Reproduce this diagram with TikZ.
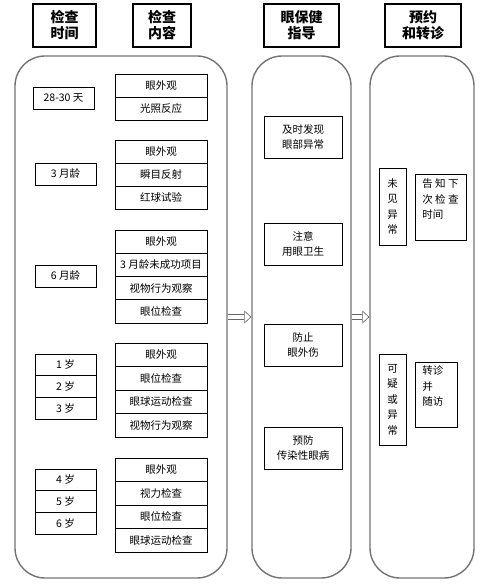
\documentclass[tikz,border=0pt]{standalone}
\usepackage{fontspec}
\setmainfont{Noto Sans CJK SC}
\usetikzlibrary{arrows.meta}

\tikzset{%
  hdrbox/.style={
    draw, line width=1.1pt,
    minimum width=#1, minimum height=43pt,
    align=center, inner sep=0pt,
    font=\fontsize{14}{16}\selectfont\bfseries
  },
  panelbox/.style={
    draw=black!55, line width=1.4pt,
    rounded corners=30pt, inner sep=0pt
  },
  itembox/.style={
    draw, line width=0.8pt,
    minimum width=92pt, minimum height=#1, inner sep=0pt,
    font=\fontsize{10.5}{12}\selectfont
  },
  agebox/.style={
    draw, line width=0.8pt,
    minimum width=61pt, minimum height=#1, inner sep=0pt,
    font=\fontsize{10.5}{12}\selectfont
  },
  guidebox/.style={
    draw, line width=0.8pt,
    minimum width=78pt, minimum height=42pt, inner sep=0pt,
    align=center, font=\fontsize{10.5}{15.5}\selectfont
  },
  markbox/.style={
    draw, line width=0.8pt,
    minimum width=27pt, minimum height=#1, inner sep=0pt,
    align=center, font=\fontsize{10.5}{15.5}\selectfont
  },
  notebox/.style={
    draw, line width=0.8pt, inner sep=0pt
  },
  notetext/.style={
    anchor=north west, align=left, inner sep=0pt,
    font=\fontsize{10.5}{15.5}\selectfont
  },
  hollow/.style={
    draw=black!60, line width=0.6pt,
    double=white, double distance=4.5pt,
    -{Triangle[open, length=7pt, width=13pt]}
  },
}

\begin{document}
\begin{tikzpicture}[x=1pt, y=-1pt]
  \useasboundingbox (0,0) rectangle (487,588);

  % headings
  \node [hdrbox=63pt] (when) at (64.5,25.5) {检查\\时间};
  \node [hdrbox=58pt] (what) at (162,25.5) {检查\\内容};
  \node [hdrbox=75pt] (guide) at (301.5,25.5) {眼保健\\指导};
  \node [hdrbox=76pt] (refer) at (423,25.5) {预约\\和转诊};

  % draw the three panels
  \node [panelbox, minimum width=212pt, minimum height=522pt] (checkpanel) at (121,317) {};
  \node [panelbox, minimum width=99pt, minimum height=522pt] (guidepanel) at (301.5,317) {};
  \node [panelbox, minimum width=104pt, minimum height=522pt] (referpanel) at (422,317) {};

  % ages
  \node [agebox=22pt] (age-1) at (63.5,98) {28-30 天};
  \node [agebox=22pt] (age-2) at (65.5,174) {3 月龄};
  \node [agebox=22pt] (age-3) at (65.5,276) {6 月龄};
  \foreach \a [count=\k] in {1,2,3}
  {
    \node [agebox=21.7pt] (yearA-\k) at (65.5,{354+21.7*\k-10.85}) {\a\ 岁};
  }
  \foreach \a [count=\k] in {4,5,6}
  {
    \node [agebox=21.7pt] (yearB-\k) at (65.5,{469+21.7*\k-10.85}) {\a\ 岁};
  }

  % draw check items
  \foreach \t [count=\k] in {眼外观,光照反应}
  {
    \node [itembox=23pt] (item1-\k) at (161,{74+23*\k-11.5}) {\t};
  }
  \foreach \t [count=\k] in {眼外观,瞬目反射,红球试验}
  {
    \node [itembox=23pt] (item2-\k) at (161,{140+23*\k-11.5}) {\t};
  }
  \foreach \t [count=\k] in {眼外观,3 月龄未成功项目,视物行为观察,眼位检查}
  {
    \node [itembox=23.25pt] (item3-\k) at (161,{230+23.25*\k-11.625}) {\t};
  }
  \foreach \t [count=\k] in {眼外观,眼位检查,眼球运动检查,视物行为观察}
  {
    \node [itembox=23.5pt] (item4-\k) at (161,{343+23.5*\k-11.75}) {\t};
  }
  \foreach \t [count=\k] in {眼外观,视力检查,眼位检查,眼球运动检查}
  {
    \node [itembox=23.5pt] (item5-\k) at (161,{458+23.5*\k-11.75}) {\t};
  }

  % draw guidance
  \node [guidebox] (tip-1) at (303,137) {及时发现\\眼部异常};
  \node [guidebox] (tip-2) at (303,244) {注意\\用眼卫生};
  \node [guidebox] (tip-3) at (303,345) {防止\\眼外伤};
  \node [guidebox] (tip-4) at (303,448) {预防\\传染性眼病};

  % draw results
  \node [markbox=77pt] (normal) at (392.5,206.5) {未\\见\\异\\常};
  \node [notebox, minimum width=51pt, minimum height=66pt] (nextvisit) at (440.5,207) {};
  \node [notetext] at ([shift={(7.5pt,-5pt)}]nextvisit.north west) {告 知 下\\次 检 查\\时间};

  \node [markbox=91pt] (abnormal) at (392.5,399.5) {可\\疑\\或\\异\\常};
  \node [notebox, minimum width=42pt, minimum height=65pt] (referral) at (436,394.5) {};
  \node [notetext] at ([shift={(7.5pt,-4pt)}]referral.north west) {转诊\\并\\随访};

  % arrows between the panels
  \draw [hollow] (checkpanel.east) -- (guidepanel.west);
  \draw [hollow] (guidepanel.east) -- (referpanel.west);

\end{tikzpicture}
\end{document}
